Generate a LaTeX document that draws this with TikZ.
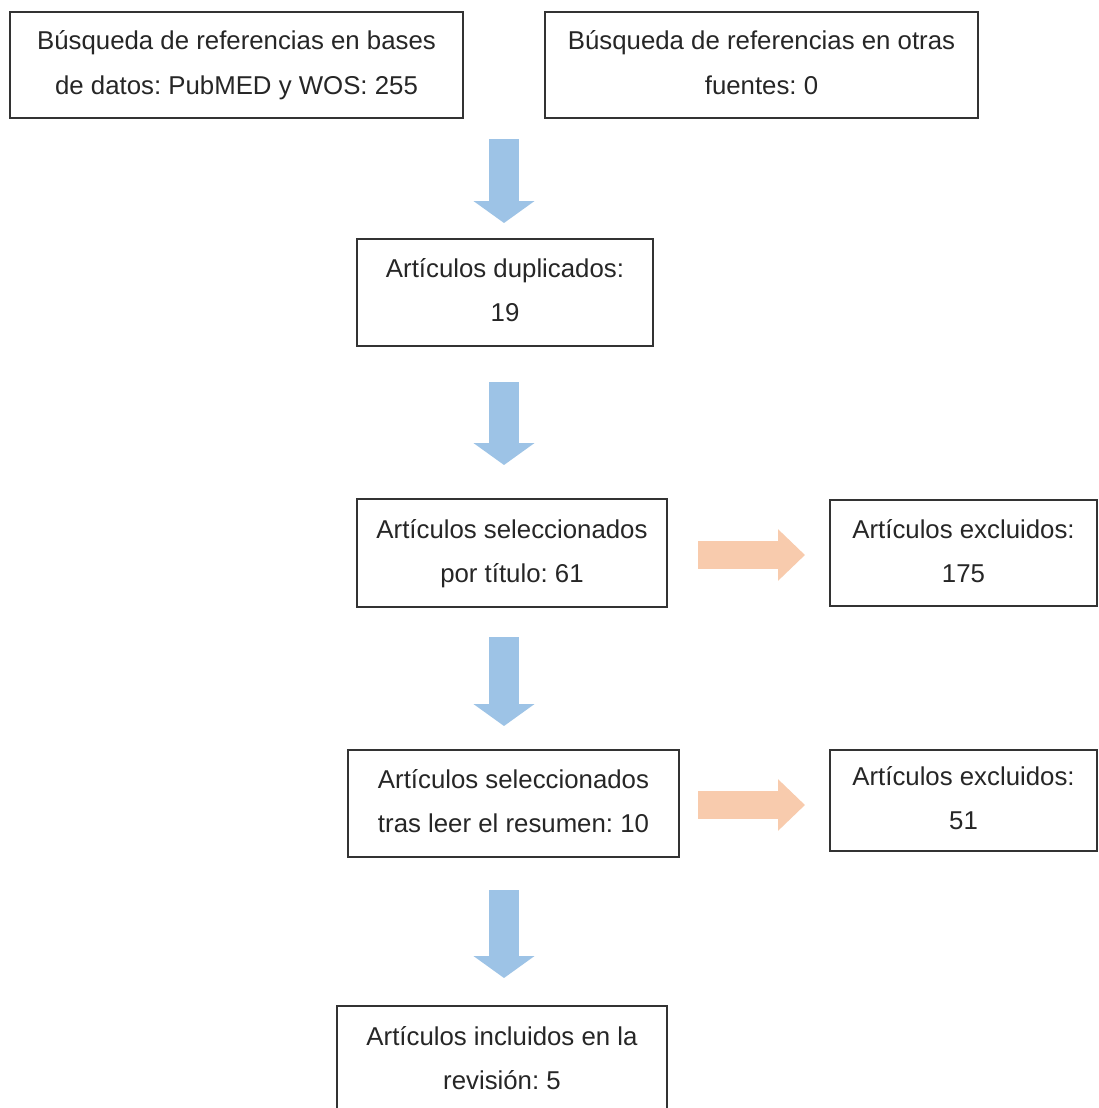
\documentclass[tikz,border=0pt]{standalone}
\usepackage{fontspec}
\setmainfont{Liberation Sans}
\usetikzlibrary{arrows.meta}
\definecolor{bluearr}{HTML}{9DC3E6}
\definecolor{orangearr}{HTML}{F8CBAD}
\definecolor{boxline}{HTML}{333333}
\newcommand\twolines[2]{\rule{0pt}{25pt}#1\\#2\rule[-11pt]{0pt}{11pt}}
\tikzset{
  flowbox/.style={draw=boxline, line width=1.5pt, fill=white, align=center,
    inner sep=0pt, font=\fontsize{25.8}{44}\selectfont\frenchspacing, text=black!85},
  downarr/.style={draw=bluearr, line width=30pt,
    -{Triangle[length=22pt,width=60pt]}},
  rightarr/.style={draw=orangearr, line width=28pt,
    -{Triangle[length=27pt,width=50pt]}}
}
\begin{document}
\begin{tikzpicture}[x=1pt,y=-1pt]
\useasboundingbox (0,0) rectangle (1099,1108);
\clip (0,0) rectangle (1099,1108);
\fill[white] (0,0) rectangle (1099,1108);

\node[flowbox, minimum width=453pt, minimum height=106pt] (b1) at (236.5,65)
  {\twolines{Búsqueda de referencias en bases}{de datos: PubMED y WOS: 255}};
\node[flowbox, minimum width=433pt, minimum height=106pt] (b2) at (761.5,65)
  {\twolines{Búsqueda de referencias en otras}{fuentes: 0}};
\node[flowbox, minimum width=296pt, minimum height=107pt] (b3) at (505,292.5)
  {\twolines{Artículos duplicados:}{19}};
\node[flowbox, minimum width=310pt, minimum height=108pt] (b4) at (512,553)
  {\twolines{Artículos seleccionados}{por título: 61}};
\node[flowbox, minimum width=267pt, minimum height=106pt] (b5) at (963.5,553)
  {\twolines{Artículos excluidos:}{175}};
\node[flowbox, minimum width=331pt, minimum height=107pt] (b6) at (513.5,803.5)
  {\twolines{Artículos seleccionados}{tras leer el resumen: 10}};
\node[flowbox, minimum width=267pt, minimum height=101pt] (b7) at (963.5,800.5)
  {\twolines{Artículos excluidos:}{51}};
\node[flowbox, minimum width=330pt, minimum height=108pt] (b8) at (502,1060)
  {\twolines{Artículos incluidos en la}{revisión: 5}};

\coordinate (a1s) at (504,139);  \coordinate (a1e) at (504,223);
\coordinate (a2s) at (504,382);  \coordinate (a2e) at (504,465);
\coordinate (a3s) at (504,637);  \coordinate (a3e) at (504,726);
\coordinate (a4s) at (504,890);  \coordinate (a4e) at (504,978);
\coordinate (o1s) at (698,555);  \coordinate (o1e) at (805,555);
\coordinate (o2s) at (698,805);  \coordinate (o2e) at (805,805);

\draw[downarr] (a1s) -- (a1e);
\draw[downarr] (a2s) -- (a2e);
\draw[downarr] (a3s) -- (a3e);
\draw[downarr] (a4s) -- (a4e);
\draw[rightarr] (o1s) -- (o1e);
\draw[rightarr] (o2s) -- (o2e);
\end{tikzpicture}
\end{document}
